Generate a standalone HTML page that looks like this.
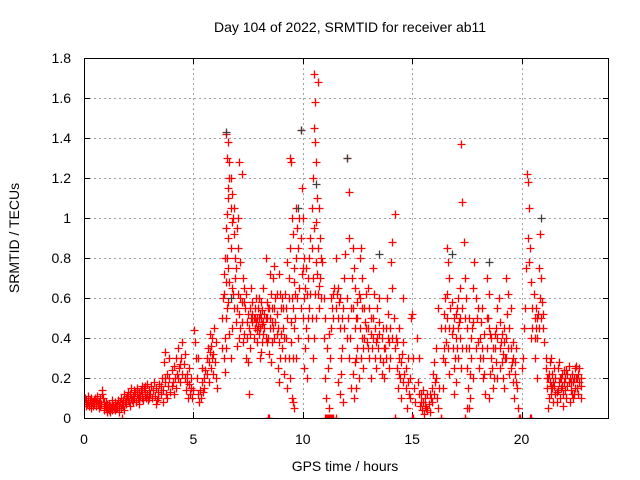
<!DOCTYPE html>
<html><head><meta charset="utf-8"><style>
html,body{margin:0;padding:0;background:#fff;}
svg{display:block;font-family:"Liberation Sans",sans-serif;}
</style></head><body>
<svg id="chart" width="640" height="480" viewBox="0 0 640 480" xmlns="http://www.w3.org/2000/svg">
<rect width="640" height="480" fill="#fff"/>
<text x="350" y="32" font-size="14" text-anchor="middle">Day 104 of 2022, SRMTID for receiver ab11</text>
<text x="19" y="238" font-size="14" text-anchor="middle" transform="rotate(-90 19 238)">SRMTID / TECUs</text>
<text x="345" y="471" font-size="14" text-anchor="middle">GPS time / hours</text>
<g id="grid"></g>
<g id="ticks"></g>
<defs><clipPath id="pc"><rect x="84" y="58" width="525" height="360"/></clipPath></defs>
<g id="marks" clip-path="url(#pc)"></g>
<rect x="84.5" y="58.5" width="524" height="360" fill="none" stroke="#000" stroke-width="1"/>
</svg>
<script>
const xTicks = [0,5,10,15,20];
const yTicks = [0,0.2,0.4,0.6,0.8,1,1.2,1.4,1.6,1.8];
const yTickLabels = ["0","0.2","0.4","0.6","0.8","1","1.2","1.4","1.6","1.8"];
const seg0 = [[0.02,.08],[0.05,.1],[0.08,.06],[0.1,.09],[0.14,.07],[0.17,.11],[0.2,.08],[0.24,.06],[0.27,.09],[0.3,.07],[0.34,.1],[0.37,.08],[0.4,.06],[0.44,.09],[0.47,.07],[0.5,.1],[0.54,.08],[0.57,.06],[0.6,.09],[0.64,.07],[0.67,.05],[0.7,.08],[0.74,.1],[0.77,.07],[0.8,.12],[0.84,.14],[0.87,.1],[0.9,.08],[0.93,.04],[0.96,.06],[1.0,.05],[1.03,.03],[1.07,.07],[1.1,.05],[1.13,.04],[1.17,.06],[1.2,.03],[1.23,.05],[1.27,.07],[1.3,.04],[1.33,.06],[1.37,.05],[1.4,.08],[1.43,.04],[1.47,.06],[1.5,.07],[1.53,.05],[1.57,.09],[1.6,.06],[1.63,.08],[1.67,.05],[1.7,.1],[1.73,.07],[1.77,.09],[1.8,.06],[1.83,.12],[1.87,.08],[1.9,.1],[1.93,.07],[1.97,.11],[2.0,.09],[2.03,.13],[2.07,.08],[2.1,.12],[2.13,.1],[2.17,.15],[2.2,.09],[2.23,.11],[2.27,.14],[2.3,.1],[2.33,.13],[2.37,.08],[2.4,.12],[2.43,.15],[2.47,.1],[2.5,.13],[2.53,.09],[2.57,.11],[2.6,.14],[2.63,.1],[2.67,.12],[2.7,.09],[2.73,.15],[2.77,.11],[2.8,.13],[2.83,.1],[2.87,.17],[2.9,.12],[2.93,.09],[2.97,.14],[0.3,.05],[0.6,.11],[1.0,.08],[1.3,.09],[1.6,.03],[1.75,0],[2.1,.06],[2.5,.07],[2.8,.16],[0.12,.07],[0.42,.08],[0.72,.06],[1.15,.07],[1.45,.05],[1.85,.04],[2.25,.08],[2.65,.16],[2.95,.1]];
const seg1 = [[3.0,.12],[3.05,.16],[3.1,.1],[3.15,.14],[3.2,.18],[3.25,.11],[3.3,.15],[3.35,.09],[3.4,.13],[3.45,.17],[3.5,.12],[3.55,.2],[3.6,.14],[3.65,.28],[3.7,.33],[3.72,.18],[3.75,.12],[3.8,.22],[3.85,.16],[3.9,.2],[3.95,.13],[4.0,.24],[4.05,.18],[4.1,.26],[4.15,.2],[4.2,.3],[4.25,.22],[4.3,.35],[4.35,.25],[4.4,.18],[4.45,.3],[4.5,.38],[4.55,.27],[4.6,.2],[4.65,.14],[4.7,.22],[4.75,.1],[4.8,.17],[4.85,.12],[4.9,.2],[4.95,.1],[5.0,.14],[5.03,.44],[5.06,.38],[5.1,.3],[5.15,.2],[5.2,.12],[5.25,.08],[5.3,.14],[5.35,.1],[5.4,.18],[5.45,.13],[5.5,.2],[5.55,.24],[5.6,.3],[5.65,.35],[5.7,.28],[5.75,.42],[5.8,.36],[5.85,.3],[5.9,.22],[5.95,.45],[6.0,.28],[6.05,.2],[6.1,.15],[3.4,.1],[3.6,.08],[3.9,.3],[4.2,.15],[4.4,.27],[4.6,.32],[4.8,.25],[5.2,.3],[5.4,.25],[5.7,.18],[5.9,.32],[6.05,.38],[3.3,.07],[3.8,.1],[4.1,.12],[3.5,.16],[3.7,.2],[4.0,.16],[4.3,.2],[4.5,.22],[4.7,.18],[4.9,.15],[5.5,.15],[5.6,.22],[5.8,.25],[5.85,.4],[5.75,.33]];
const seg2 = [[6.3,.5],[6.35,.6],[6.4,.72],[6.45,.8],[6.5,.95],[6.5,1.42],[6.6,1.38],[6.55,1.3],[6.65,1.28],[6.7,1.2],[6.6,1.15],[6.7,1.05],[6.75,1.12],[6.8,1.0],[6.55,1.02],[6.6,.9],[6.7,.85],[6.85,.92],[6.9,.8],[6.4,.62],[6.5,.35],[6.55,.55],[6.65,.68],[6.75,.45],[6.8,.62],[6.9,.7],[7.0,.95],[7.05,.85],[7.1,1.28],[7.2,1.22],[7.15,.6],[7.2,.48],[7.3,.42],[6.4,.3],[6.45,.23],[6.3,.35],[7.0,.55],[7.1,.4],[7.25,.7],[7.35,.55],[7.4,.3],[7.5,.28],[7.55,.12],[7.6,.35],[7.7,.52],[7.8,.45],[7.85,.6],[7.9,.38],[8.0,.42],[8.05,.3],[8.1,.5],[8.15,.38],[8.2,.65],[8.3,.5],[8.35,.58],[8.4,.4],[8.45,.32],[8.5,.45],[8.55,.28],[8.6,.48],[8.65,.7],[8.7,.55],[8.75,.6],[8.8,.42],[8.85,.25],[8.9,.18],[8.95,.3],[9.0,.55],[7.6,.55],[7.75,.4],[7.9,.5],[8.1,.33],[8.25,.45],[8.4,.55],[8.6,.38],[8.8,.62],[7.45,.48],[7.65,.65],[8.0,.6],[8.3,.8],[8.5,.72],[8.7,.76],[8.9,.72],[7.7,.48],[7.8,.5],[7.95,.46],[8.05,.52],[8.15,.47],[8.2,.42],[8.35,.38],[8.4,0],[8.42,0],[8.44,0]];
const seg2b = [[6.45,.4],[6.5,.5],[6.6,.58],[6.65,.42],[6.7,.3],[6.75,.65],[6.85,.55],[6.95,.48],[7.0,.36],[7.05,.62],[7.1,.52],[7.15,.45],[7.25,.38],[7.3,.58],[7.4,.62],[7.45,.4],[7.5,.52],[7.55,.45],[7.6,.42],[7.65,.5],[7.7,.58],[7.75,.5],[7.8,.55],[7.85,.48],[7.9,.44],[7.95,.55],[8.0,.5],[8.05,.45],[8.1,.58],[8.15,.54],[8.2,.48],[8.25,.52],[8.3,.4],[8.35,.5],[8.45,.55],[8.5,.5],[8.55,.62],[8.6,.55],[8.65,.45],[8.7,.4],[8.75,.48],[8.8,.52],[8.85,.45],[8.9,.38],[8.95,.62],[9.0,.42],[9.05,.35],[9.05,.6],[6.6,1.1],[6.65,1.2],[6.55,.8],[6.75,.98],[6.85,1.05],[6.95,.75],[7.05,1.0],[7.15,.78],[6.5,.68],[6.6,.75],[7.3,.65],[7.2,.58]];
const seg3 = [[9.4,1.3],[9.45,1.28],[9.5,1.0],[9.55,.92],[9.6,.75],[9.4,.85],[9.35,.7],[9.3,.5],[9.25,.4],[9.2,.3],[9.15,.22],[9.3,.15],[9.4,.2],[9.5,.1],[9.6,.05],[9.55,.08],[9.5,.6],[9.6,.45],[9.65,.62],[9.7,1.05],[9.75,.95],[9.8,.85],[9.85,1.0],[9.9,1.44],[9.95,1.15],[10.0,1.0],[10.05,.8],[10.1,.65],[9.9,.55],[10.0,.5],[10.1,.35],[10.15,.45],[10.2,.62],[10.25,.7],[10.3,.8],[10.35,.9],[10.4,1.05],[10.45,1.2],[10.5,1.72],[10.55,1.58],[10.5,1.45],[10.55,1.38],[10.6,1.28],[10.65,1.1],[10.6,.98],[10.7,1.68],[10.75,1.05],[10.7,.85],[10.8,.7],[10.75,.55],[10.85,.6],[10.9,.78],[10.6,.5],[10.5,.4],[10.4,.5],[10.3,.55],[10.95,.4],[11.0,.2],[11.05,.1],[11.1,.35],[11.15,.25],[11.2,.05],[11.0,0],[11.05,0],[11.1,0],[11.15,0],[11.2,0],[11.25,0],[11.3,0],[11.35,0],[11.4,0],[11.5,0],[11.25,.3],[11.3,.45],[11.35,.55],[11.4,.5],[11.45,.65],[11.5,.8],[11.55,.62],[11.6,.5],[11.65,.58],[11.7,.45],[11.75,.3],[11.8,.35],[11.85,.55],[11.9,.7],[11.95,.82],[12.0,.6],[12.05,.5],[12.0,1.3],[12.1,1.13],[11.6,.18],[11.7,.12],[11.75,.22],[11.85,.08],[12.1,.9],[12.15,.4],[12.2,.55],[9.8,.4],[9.7,.3],[10.05,.25],[10.2,.2],[9.1,.55],[9.2,.62],[9.1,.45],[9.3,.78],[9.6,.68]];
const seg3b = [[9.15,.4],[9.25,.55],[9.35,.6],[9.45,.48],[9.55,.55],[9.65,.5],[9.75,.6],[9.85,.65],[9.95,.72],[10.05,.6],[10.15,.75],[10.25,.5],[10.35,.62],[10.45,.7],[10.55,.62],[10.65,.72],[10.75,.66],[10.85,.8],[10.95,.6],[11.0,.5],[11.2,.42],[11.3,.6],[11.4,.62],[11.5,.55],[11.6,.65],[11.7,.6],[11.8,.5],[11.9,.45],[12.0,.4],[10.4,.85],[10.5,.95],[10.6,.78],[10.7,.62],[10.8,.9],[9.7,.8],[9.9,.9],[10.0,.75],[9.55,.3],[9.45,.38],[9.35,.3],[10.45,.3],[10.25,.4]];
const seg4 = [[12.25,.7],[12.3,.85],[12.35,.75],[12.4,.65],[12.45,.5],[12.5,.58],[12.55,.62],[12.6,.8],[12.65,.85],[12.7,.7],[12.6,.45],[12.5,.35],[12.4,.28],[12.3,.22],[12.35,.1],[12.45,.15],[12.55,.2],[12.65,.3],[12.7,.4],[12.75,.25],[12.8,.55],[12.85,.48],[12.9,.62],[12.95,.38],[13.0,.45],[13.05,.55],[13.1,.42],[13.15,.35],[13.2,.5],[13.25,.62],[13.3,.3],[13.35,.25],[13.4,.4],[13.45,.35],[13.5,.48],[13.55,.3],[13.6,.22],[13.65,.28],[13.7,.2],[13.75,.35],[13.8,.45],[13.85,.6],[13.9,.52],[13.95,.38],[14.0,.3],[14.05,.78],[14.1,.88],[14.1,.65],[14.15,.5],[14.2,1.02],[14.25,.4],[14.3,.25],[14.35,.15],[14.4,.3],[14.45,.2],[14.5,.1],[14.55,.32],[14.6,.38],[14.65,.22],[14.7,.15],[14.75,.05],[14.8,.3],[14.85,.12],[14.9,.2],[14.95,.5],[15.0,.52],[15.05,.3],[15.1,.15],[15.15,.08],[12.1,.3],[12.2,.15],[13.0,.65],[13.2,.75],[13.5,.6],[13.1,.2],[14.2,0],[14.22,0],[15.0,0],[15.02,0],[14.6,.6],[14.4,.45]];
const seg4b = [[12.3,.55],[12.4,.45],[12.5,.5],[12.6,.6],[12.7,.55],[12.8,.4],[12.9,.45],[13.0,.35],[13.1,.5],[13.2,.4],[13.3,.45],[13.4,.55],[13.5,.42],[13.6,.4],[13.7,.35],[13.8,.3],[13.9,.4],[14.0,.45],[14.1,.4],[14.2,.35],[14.3,.38],[14.4,.22],[14.5,.28],[14.6,.18],[14.7,.25],[14.8,.18],[14.9,.1],[12.45,.3],[12.75,.35],[13.05,.3],[13.35,.38],[13.65,.45],[13.95,.25]];
const seg5 = [[15.2,.4],[15.25,.18],[15.3,.3],[15.35,.06],[15.4,.12],[15.45,.04],[15.5,.08],[15.55,.02],[15.6,.1],[15.65,.05],[15.7,.12],[15.75,.07],[15.8,.03],[15.85,.1],[15.9,.15],[15.95,.22],[16.0,.28],[16.05,.18],[16.1,.35],[16.15,.1],[16.2,.05],[16.25,.15],[16.3,0],[16.32,0],[16.4,.3],[16.45,.52],[16.5,.45],[16.55,.38],[16.6,.62],[16.6,.85],[16.65,.78],[16.7,.7],[16.75,.55],[16.8,.42],[16.85,.35],[16.9,.25],[16.95,.3],[17.0,.4],[17.05,.55],[17.1,.6],[17.15,.48],[17.2,.65],[17.25,1.37],[17.3,1.08],[17.35,.88],[17.4,.7],[17.45,.35],[17.5,.25],[17.55,.15],[17.6,.05],[17.65,.1],[17.7,.3],[17.75,.45],[17.8,.65],[17.85,.78],[17.9,.6],[17.95,.5],[18.0,.38],[16.7,.22],[16.9,.12],[17.0,.18],[17.1,.3],[17.4,0],[17.42,0],[17.5,.05],[16.4,.15],[16.5,.28],[17.2,.4],[17.3,.35],[17.6,.5],[17.8,.2],[16.2,.55],[16.3,.45]];
const seg5b = [[15.3,.12],[15.4,.08],[15.5,.14],[15.6,.06],[15.7,.04],[15.8,.12],[15.9,.08],[16.0,.12],[16.1,.2],[16.5,.6],[16.6,.5],[16.7,.45],[16.8,.58],[16.9,.5],[17.0,.52],[17.1,.45],[17.2,.5],[17.3,.55],[17.4,.5],[17.5,.45],[17.6,.35],[17.7,.4],[17.8,.48],[17.9,.35],[18.0,.55],[16.45,.35],[16.65,.35],[16.85,.45],[17.05,.35],[17.25,.25],[17.45,.6],[17.65,.22]];
const seg6 = [[18.05,.25],[18.1,.4],[18.15,.48],[18.2,.55],[18.25,.3],[18.3,.22],[18.35,.12],[18.4,.35],[18.45,.5],[18.5,.62],[18.55,.42],[18.6,.3],[18.65,.25],[18.7,.15],[18.75,.2],[18.8,.35],[18.85,.45],[18.9,.55],[18.95,.6],[19.0,.48],[19.05,.38],[19.1,.28],[19.15,.2],[19.2,.15],[19.25,.3],[19.3,.4],[19.35,.52],[19.4,.62],[19.45,.45],[19.5,.35],[19.55,.28],[19.6,.18],[19.65,.1],[19.7,.22],[19.75,.35],[19.8,.15],[19.85,.05],[19.9,0],[19.92,0],[20.0,.25],[20.05,.3],[20.1,.45],[20.15,.55],[20.2,.75],[20.25,1.22],[20.3,1.18],[20.35,1.05],[20.3,.9],[20.35,.78],[20.4,.85],[20.45,.68],[20.4,0],[20.42,0],[20.5,.55],[20.55,.62],[20.6,.5],[20.65,.45],[20.7,.4],[20.75,.52],[20.8,.75],[20.85,.92],[20.9,.7],[20.95,.58],[21.0,.45],[21.05,.38],[18.5,.1],[18.9,.2],[19.3,.7],[18.4,.7],[19.0,.25],[19.2,.45],[19.5,.55],[19.6,.38],[20.6,.3],[20.7,.2],[20.45,.4]];
const seg6b = [[18.1,.3],[18.2,.35],[18.3,.42],[18.4,.5],[18.5,.45],[18.6,.4],[18.7,.35],[18.8,.42],[18.9,.4],[19.0,.35],[19.1,.42],[19.2,.38],[19.3,.3],[19.4,.35],[19.5,.25],[19.6,.3],[19.7,.28],[20.5,.45],[20.6,.4],[20.7,.5],[20.8,.45],[20.9,.5],[21.0,.52],[20.65,.55],[20.85,.6],[18.25,.2],[18.55,.22],[18.85,.28],[19.15,.32],[19.45,.22],[19.75,.18]];
const seg7 = [[21.1,.25],[21.15,.15],[21.2,.2],[21.25,.1],[21.3,.18],[21.35,.12],[21.4,.22],[21.45,.08],[21.5,.16],[21.55,.2],[21.6,.13],[21.65,.25],[21.7,.18],[21.75,.1],[21.8,.15],[21.85,.22],[21.9,.12],[21.95,.18],[22.0,.2],[22.05,.1],[22.1,.16],[22.15,.26],[22.2,.2],[22.25,.14],[22.3,.22],[22.35,.18],[22.4,.12],[22.45,.25],[22.5,.2],[22.55,.15],[22.6,.22],[22.65,.18],[22.7,.1],[21.1,.3],[21.2,.05],[21.3,.28],[21.4,.15],[21.5,.25],[21.6,.08],[21.7,.28],[21.8,.2],[21.9,.06],[22.0,.14],[22.1,.22],[22.2,.08],[22.3,.12],[22.4,.2],[22.5,.26],[22.6,.12],[22.7,.2],[21.25,.22],[21.45,.18],[21.65,.14],[21.85,.16],[22.05,.24],[22.25,.18],[22.45,.15],[22.65,.25],[21.35,.3],[21.15,.2],[21.35,.16],[21.55,.12],[21.75,.2],[21.95,.24],[22.15,.18],[22.35,.1],[22.55,.2],[22.7,.16]];
const darkPoints = [[6.5,1.43],[9.9,1.44],[6.7,.6],[10.6,1.17],[12.0,1.3],[16.8,.82],[20.9,1.0],[18.5,.78],[9.8,1.05],[13.5,.82]];

const X0=84, X1=609, Y0=418, Y1=58, XMAX=24, YMAX=1.8;
function xs(t){return X0+(X1-X0)*t/XMAX;}
function ys(v){return Y0-(Y0-Y1)*v/YMAX;}
const NS="http://www.w3.org/2000/svg";
const grid=document.getElementById('grid'), ticks=document.getElementById('ticks'), marks=document.getElementById('marks');
function mk(tag,attrs,parent){const e=document.createElementNS(NS,tag);for(const k in attrs)e.setAttribute(k,attrs[k]);parent.appendChild(e);return e;}
xTicks.forEach(t=>{
  const x=Math.round(xs(t))+0.5;
  if(t>0){const g=mk('line',{x1:x,y1:Y1,x2:x,y2:Y0,stroke:'#a0a0a0','stroke-dasharray':'2,3'},grid);
  
  }
  mk('line',{x1:x,y1:Y0,x2:x,y2:Y0-6,stroke:'#000'},ticks);
  mk('line',{x1:x,y1:Y1,x2:x,y2:Y1+6,stroke:'#000'},ticks);
  const l=mk('text',{x:xs(t),y:444,'font-size':14,'text-anchor':'middle'},ticks);l.textContent=String(t);
  
  
});
yTicks.forEach((v,i)=>{
  const y=Math.round(ys(v))+0.5;
  if(v>0&&v<1.8){const g=mk('line',{x1:X0,y1:y,x2:X1,y2:y,stroke:'#a0a0a0','stroke-dasharray':'2,3'},grid);
  
  }
  mk('line',{x1:X0,y1:y,x2:X0+6,y2:y,stroke:'#000'},ticks);
  mk('line',{x1:X1,y1:y,x2:X1-6,y2:y,stroke:'#000'},ticks);
  const l=mk('text',{x:71,y:ys(v)+5,'font-size':14,'text-anchor':'end'},ticks);l.textContent=yTickLabels[i];
  
  
});
function plus(p,color){
  const x=Math.round(xs(p[0]))+0.5, y=Math.round(ys(p[1]))+0.5;
  const e=mk('path',{d:`M${x-4} ${y}h8M${x} ${y-4}v8`,stroke:color,'stroke-width':1.3,fill:'none'},marks);
  
  
}
[seg0,seg1,seg2,seg2b,seg3,seg3b,seg4,seg4b,seg5,seg5b,seg6,seg6b,seg7].forEach(s=>s.forEach(p=>plus(p,'#ff0000')));
darkPoints.forEach(p=>plus(p,'#404040'));
</script>
</body></html>
